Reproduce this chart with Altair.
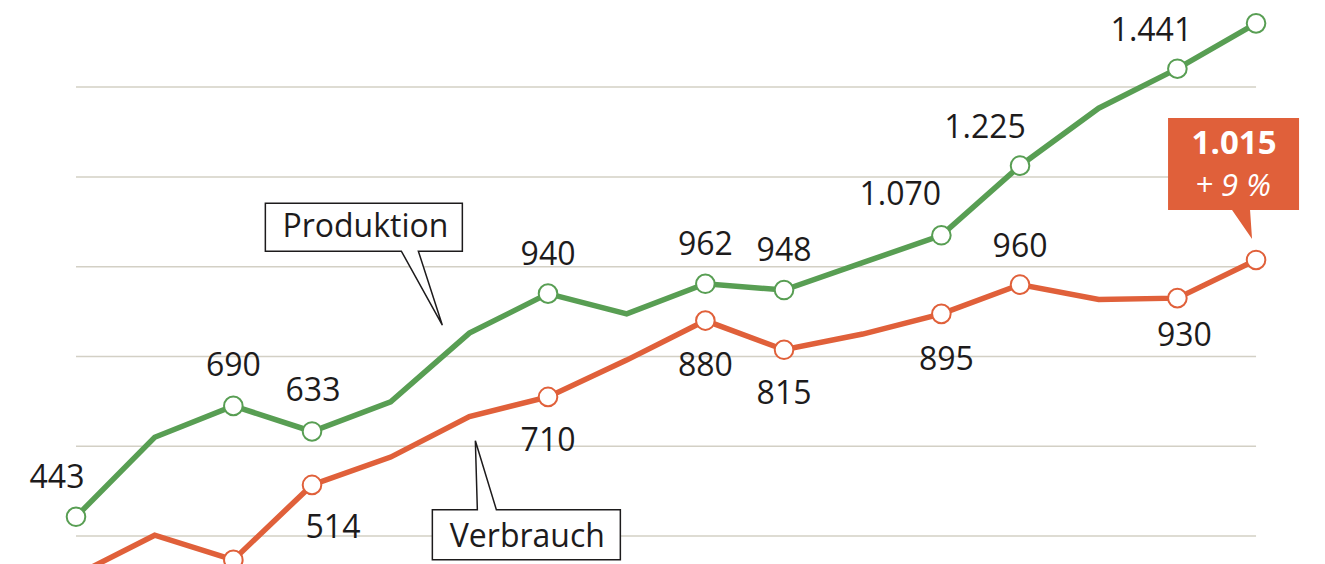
import altair as alt
import pandas as pd

# ---------------- data ----------------
jahre = list(range(2006, 2022))  # 16 consecutive periods (x axis not shown)
produktion = [443, 620, 690, 633, 699, 852, 940, 895, 962, 948, 1009, 1070, 1225, 1353, 1441, 1542]
verbrauch = [313, 402, 347, 514, 576, 666, 710, 792, 880, 815, 850, 895, 960, 927, 930, 1015]
markiert = [0, 2, 3, 6, 8, 9, 11, 12, 14, 15]          # points drawn with a circle
beschriftet_produktion = [0, 2, 3, 6, 8, 9, 11, 12, 14]
beschriftet_verbrauch = [3, 6, 8, 9, 11, 12, 14]
gitter = [400, 600, 800, 1000, 1200, 1400]
serien = ["Produktion", "Verbrauch"]
veraenderung = "+ 9 %"

# ---------------- style ----------------
farben = ["#589e53", "#e0603a"]
TXT = "#1d1b1c"
FONT = "Open Sans"
W, H = 1309, 556
PX_PER_STEP = 78.67      # px between two periods
PX_PER_UNIT = 0.449      # px per value unit
X0_PX, Y1000_PX = 68.0, 258.7   # plot-area position of first period / value 1000

# label placement (dx, dy in px) per labelled index
lage_p = {0: (-19, -29), 2: (0, -30), 3: (1, -30), 6: (0, -29), 8: (0, -29), 9: (0, -29),
          11: (-41, -30), 12: (-35, -28), 14: (-26, -28)}
lage_v = {3: (21, 53), 6: (0, 54), 8: (0, 55), 9: (0, 54), 11: (5, 56), 12: (0, -28), 14: (7, 48)}


def fmt(v):
    return f"{v:,}".replace(",", ".")


rows = []
for s, werte in zip(serien, [produktion, verbrauch]):
    for i, (j, v) in enumerate(zip(jahre, werte)):
        rows.append({"serie": s, "i": i, "jahr": j, "wert": v, "text": fmt(v)})
df = pd.DataFrame(rows)

x_lo = jahre[0] - X0_PX / PX_PER_STEP
x_hi = x_lo + W / PX_PER_STEP
y_hi = 1000 + Y1000_PX / PX_PER_UNIT
y_lo = 1000 - (H - Y1000_PX) / PX_PER_UNIT

xscale = alt.Scale(domain=[x_lo, x_hi], nice=False, zero=False)
yscale = alt.Scale(domain=[y_lo, y_hi], nice=False, zero=False)
cscale = alt.Scale(domain=serien, range=farben)

base = alt.Chart(df).encode(
    x=alt.X("jahr:Q", scale=xscale, axis=None),
    y=alt.Y("wert:Q", scale=yscale, axis=None),
)

grid = alt.Chart(pd.DataFrame({"wert": gitter, "von": jahre[0], "bis": jahre[-1]})).mark_rule(
    color="#d3d0c5", strokeWidth=1.5
).encode(
    y=alt.Y("wert:Q", scale=yscale, axis=None),
    x=alt.X("von:Q", scale=xscale, axis=None),
    x2="bis:Q",
)

lines = base.mark_line(strokeWidth=5.5, clip=True).encode(
    color=alt.Color("serie:N", scale=cscale, legend=None)
)

circles = base.transform_filter(
    alt.FieldOneOfPredicate(field="i", oneOf=markiert)
).mark_circle(size=346, fill="white", strokeWidth=2, opacity=1, clip=True).encode(
    stroke=alt.Stroke("serie:N", scale=cscale, legend=None)
)


def sel(serie, i):
    return f"datum.serie == '{serie}' && datum.i == {i}"


def label(serie, i, dx, dy):
    return base.transform_filter(sel(serie, i)).mark_text(
        font=FONT, fontSize=32, color=TXT, align="center", baseline="alphabetic", dx=dx, dy=dy
    ).encode(text="text:N")


labels = [label("Produktion", i, *lage_p[i]) for i in beschriftet_produktion]
labels += [label("Verbrauch", i, *lage_v[i]) for i in beschriftet_verbrauch]

# callout boxes anchored on data points (custom symbol path, size=4 -> 1 unit = 1 px)
prod_box = base.transform_filter(sel("Produktion", 5)).mark_point(
    shape="M -204 -130 H -7 V -82 H -51 L -27 -8 L -68 -82 H -204 Z",
    size=4, filled=True, fill="white", stroke=TXT, strokeWidth=1.5, opacity=1,
)
prod_txt = base.transform_filter(sel("Produktion", 5)).mark_text(
    font=FONT, fontSize=32, color=TXT, align="center", baseline="alphabetic", dx=-104, dy=-96
).encode(text=alt.value("Produktion"))

verb_box = base.transform_filter(sel("Verbrauch", 5)).mark_point(
    shape="M -37 93 H 8 L 6 24 L 27 93 H 151 V 143 H -37 Z",
    size=4, filled=True, fill="white", stroke=TXT, strokeWidth=1.5, opacity=1,
)
verb_txt = base.transform_filter(sel("Verbrauch", 5)).mark_text(
    font=FONT, fontSize=32, color=TXT, align="center", baseline="alphabetic", dx=58, dy=130
).encode(text=alt.value("Verbrauch"))

last = len(jahre) - 1
end_box = base.transform_filter(sel("Verbrauch", last)).mark_point(
    shape="M -88 -142 H 43 V -50 H -6 L -4 -21 L -24 -50 H -88 Z",
    size=4, filled=True, fill=farben[1], strokeWidth=0, opacity=1,
)
end_val = base.transform_filter(sel("Verbrauch", last)).mark_text(
    font=FONT, fontSize=33, fontWeight="bold", color="white", align="center",
    baseline="alphabetic", dx=-22, dy=-106
).encode(text="text:N")
end_pct = base.transform_filter(sel("Verbrauch", last)).mark_text(
    font=FONT, fontSize=31, fontStyle="italic", color="white", align="center",
    baseline="alphabetic", dx=-23, dy=-64
).encode(text=alt.value(veraenderung))

chart = alt.layer(
    grid, prod_box, verb_box, lines, end_box, circles, *labels,
    prod_txt, verb_txt, end_val, end_pct,
).properties(
    width=W, height=H, autosize=alt.AutoSizeParams(type="none"), padding=0,
    background="white",
).configure_view(stroke=None)

chart.save("out.html", embed_options={"renderer": "svg", "actions": False})
